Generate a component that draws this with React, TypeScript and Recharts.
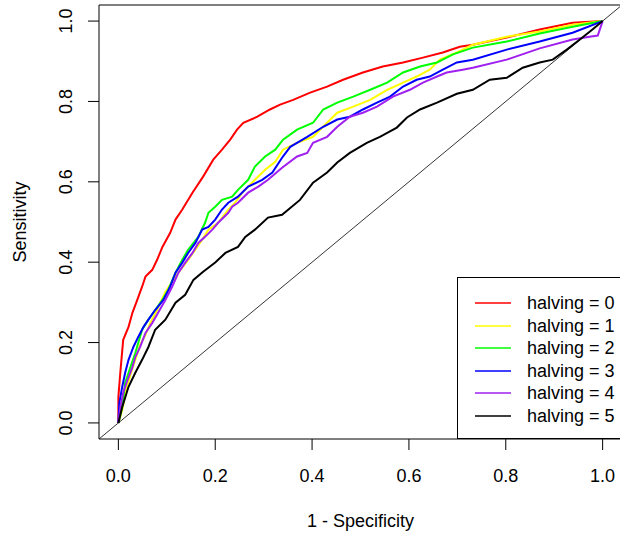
import React from 'react';
import { LineChart, Line, XAxis, YAxis, ReferenceArea } from 'recharts';

const seriesNames = ['halving = 0', 'halving = 1', 'halving = 2', 'halving = 3', 'halving = 4', 'halving = 5'];
const seriesColors = ['#FF0000', '#FFFF00', '#00FF00', '#0000FF', '#A020F0', '#000000'];
const axisTicks = [0, 0.2, 0.4, 0.6, 0.8, 1.0];

const h0Fpr = [0, 0, 0.004, 0.010, 0.021, 0.029, 0.039, 0.049, 0.056, 0.070, 0.080, 0.091, 0.107, 0.118, 0.132, 0.153, 0.175, 0.196, 0.214, 0.231, 0.245, 0.258, 0.287, 0.313, 0.334, 0.361, 0.396, 0.431, 0.464, 0.505, 0.546, 0.588, 0.629, 0.670, 0.705, 0.732, 0.802, 0.870, 0.938, 1];
const h0Tpr = [0, 0.065, 0.125, 0.207, 0.239, 0.274, 0.306, 0.339, 0.364, 0.381, 0.406, 0.438, 0.473, 0.506, 0.531, 0.573, 0.613, 0.655, 0.680, 0.705, 0.730, 0.747, 0.762, 0.780, 0.792, 0.804, 0.822, 0.837, 0.854, 0.872, 0.887, 0.897, 0.909, 0.922, 0.936, 0.941, 0.959, 0.979, 0.996, 1];

const h1Fpr = [0, 0.008, 0.016, 0.025, 0.035, 0.045, 0.056, 0.066, 0.080, 0.097, 0.124, 0.144, 0.159, 0.173, 0.186, 0.206, 0.227, 0.241, 0.256, 0.268, 0.282, 0.303, 0.324, 0.340, 0.369, 0.402, 0.431, 0.452, 0.485, 0.520, 0.555, 0.588, 0.616, 0.643, 0.664, 0.699, 0.732, 0.802, 0.870, 0.938, 1];
const h1Tpr = [0, 0.032, 0.082, 0.120, 0.157, 0.194, 0.219, 0.249, 0.281, 0.326, 0.374, 0.406, 0.431, 0.456, 0.481, 0.498, 0.531, 0.548, 0.573, 0.588, 0.605, 0.630, 0.650, 0.680, 0.697, 0.712, 0.747, 0.772, 0.787, 0.804, 0.829, 0.847, 0.862, 0.879, 0.904, 0.922, 0.941, 0.961, 0.974, 0.991, 1];

const h2Fpr = [0, 0.008, 0.014, 0.025, 0.035, 0.049, 0.062, 0.076, 0.091, 0.103, 0.118, 0.132, 0.144, 0.165, 0.179, 0.186, 0.200, 0.214, 0.235, 0.247, 0.268, 0.282, 0.303, 0.324, 0.340, 0.369, 0.402, 0.423, 0.452, 0.485, 0.520, 0.555, 0.588, 0.623, 0.658, 0.691, 0.732, 0.802, 0.870, 0.938, 1];
const h2Tpr = [0, 0.040, 0.100, 0.139, 0.174, 0.232, 0.257, 0.281, 0.306, 0.331, 0.374, 0.406, 0.431, 0.463, 0.498, 0.523, 0.538, 0.555, 0.563, 0.580, 0.605, 0.638, 0.663, 0.680, 0.705, 0.730, 0.747, 0.780, 0.797, 0.812, 0.829, 0.847, 0.872, 0.887, 0.897, 0.917, 0.934, 0.949, 0.969, 0.986, 1];

const h3Fpr = [0, 0.002, 0.008, 0.014, 0.021, 0.031, 0.041, 0.052, 0.062, 0.076, 0.093, 0.107, 0.118, 0.132, 0.144, 0.159, 0.173, 0.186, 0.200, 0.214, 0.227, 0.247, 0.268, 0.297, 0.318, 0.338, 0.355, 0.390, 0.423, 0.452, 0.478, 0.505, 0.534, 0.561, 0.588, 0.616, 0.643, 0.670, 0.699, 0.732, 0.802, 0.870, 0.938, 1];
const h3Tpr = [0, 0.050, 0.090, 0.125, 0.157, 0.189, 0.214, 0.239, 0.257, 0.281, 0.306, 0.339, 0.374, 0.399, 0.423, 0.448, 0.481, 0.488, 0.506, 0.531, 0.548, 0.563, 0.588, 0.605, 0.623, 0.660, 0.687, 0.712, 0.737, 0.755, 0.762, 0.780, 0.797, 0.812, 0.837, 0.854, 0.862, 0.879, 0.897, 0.904, 0.929, 0.949, 0.971, 1];

const h4Fpr = [0, 0.004, 0.010, 0.019, 0.029, 0.035, 0.045, 0.056, 0.070, 0.082, 0.097, 0.111, 0.124, 0.138, 0.153, 0.165, 0.179, 0.194, 0.206, 0.227, 0.235, 0.247, 0.268, 0.289, 0.309, 0.338, 0.369, 0.390, 0.402, 0.431, 0.452, 0.478, 0.505, 0.534, 0.567, 0.602, 0.629, 0.658, 0.678, 0.711, 0.732, 0.802, 0.870, 0.938, 0.973, 0.990, 1];
const h4Tpr = [0, 0.040, 0.075, 0.107, 0.139, 0.164, 0.189, 0.224, 0.249, 0.274, 0.306, 0.339, 0.374, 0.399, 0.423, 0.448, 0.463, 0.481, 0.498, 0.523, 0.538, 0.548, 0.573, 0.588, 0.605, 0.635, 0.663, 0.672, 0.697, 0.712, 0.737, 0.762, 0.772, 0.787, 0.812, 0.829, 0.847, 0.862, 0.872, 0.879, 0.884, 0.904, 0.932, 0.954, 0.961, 0.964, 1];

const h5Fpr = [0, 0.008, 0.021, 0.035, 0.049, 0.062, 0.076, 0.097, 0.118, 0.138, 0.155, 0.175, 0.200, 0.221, 0.247, 0.262, 0.282, 0.309, 0.338, 0.375, 0.402, 0.431, 0.452, 0.478, 0.513, 0.540, 0.575, 0.596, 0.623, 0.658, 0.699, 0.732, 0.767, 0.802, 0.835, 0.870, 0.897, 0.926, 0.953, 0.979, 1];
const h5Tpr = [0, 0.040, 0.090, 0.125, 0.157, 0.189, 0.232, 0.257, 0.299, 0.319, 0.356, 0.376, 0.399, 0.423, 0.438, 0.463, 0.481, 0.511, 0.518, 0.555, 0.598, 0.623, 0.648, 0.672, 0.697, 0.712, 0.735, 0.760, 0.780, 0.797, 0.819, 0.829, 0.854, 0.859, 0.884, 0.897, 0.904, 0.929, 0.954, 0.979, 1];

const diagFpr = [-0.04, 1.04];
const diagTpr = [-0.04, 1.04];

const toPoints = (xs: number[], ys: number[]) => xs.map((x, i) => ({ x, y: ys[i] }));

const curves = [
  toPoints(h0Fpr, h0Tpr),
  toPoints(h1Fpr, h1Tpr),
  toPoints(h2Fpr, h2Tpr),
  toPoints(h3Fpr, h3Tpr),
  toPoints(h4Fpr, h4Tpr),
  toPoints(h5Fpr, h5Tpr),
];
const diagonal = toPoints(diagFpr, diagTpr);

const FONT = '"Liberation Sans", Arial, sans-serif';

const XTick = (props: any) => {
  const { x, y, payload } = props;
  return (
    <text x={x} y={y + 32} textAnchor="middle" fontSize={18} fontFamily={FONT} fill="#000">
      {Number(payload.value).toFixed(1)}
    </text>
  );
};

const YTick = (props: any) => {
  const { x, y, payload } = props;
  const bx = x - 16;
  return (
    <text x={bx} y={y} transform={`rotate(-90, ${bx}, ${y})`} textAnchor="middle" fontSize={18} fontFamily={FONT} fill="#000">
      {Number(payload.value).toFixed(1)}
    </text>
  );
};

const XTitle = (props: any) => {
  const vb = props.viewBox || {};
  return (
    <text x={vb.x + vb.width / 2} y={vb.y + 88} textAnchor="middle" fontSize={18} fontFamily={FONT} fill="#000">
      1 - Specificity
    </text>
  );
};

const YTitle = (props: any) => {
  const vb = props.viewBox || {};
  const cx = 26;
  const cy = vb.y + vb.height / 2;
  return (
    <text x={cx} y={cy} transform={`rotate(-90, ${cx}, ${cy})`} textAnchor="middle" fontSize={18} fontFamily={FONT} fill="#000">
      Sensitivity
    </text>
  );
};

const LegendBox = () => (
  <div
    style={{
      position: 'absolute',
      left: 457,
      top: 277,
      width: 170,
      height: 162,
      border: '1px solid #000',
      boxSizing: 'border-box',
      background: '#fff',
      fontFamily: FONT,
      fontSize: 18,
      color: '#000',
    }}
  >
    {seriesNames.map((name, i) => (
      <div
        key={name}
        style={{ position: 'absolute', left: 0, top: 25 + i * 22.6 - 11, height: 22, width: 170, lineHeight: '22px' }}
      >
        <svg width={60} height={22} style={{ position: 'absolute', left: 0, top: 0 }}>
          <line x1={17} x2={53} y1={11} y2={11} stroke={seriesColors[i]} strokeWidth={1.3} />
        </svg>
        <span style={{ position: 'absolute', left: 69, top: 0, whiteSpace: 'nowrap' }}>{name}</span>
      </div>
    ))}
  </div>
);

export default function App() {
  return (
    <div style={{ position: 'fixed', left: 0, top: 0, width: 620, height: 534, overflow: 'hidden', background: '#fff' }}>
      <LineChart width={624} height={534} margin={{ top: 5, right: 2, bottom: 0, left: 0 }}>
        <XAxis
          dataKey="x"
          type="number"
          domain={[-0.04, 1.04]}
          allowDataOverflow
          ticks={axisTicks}
          tick={<XTick />}
          tickSize={11}
          tickMargin={0}
          tickLine={{ stroke: '#000', strokeWidth: 1 }}
          axisLine={false}
          height={95}
          interval={0}
          label={<XTitle />}
        />
        <YAxis
          dataKey="y"
          type="number"
          domain={[-0.04, 1.04]}
          allowDataOverflow
          ticks={axisTicks}
          tick={<YTick />}
          tickSize={11}
          tickMargin={0}
          tickLine={{ stroke: '#000', strokeWidth: 1 }}
          axisLine={false}
          width={99}
          interval={0}
          label={<YTitle />}
        />
        <ReferenceArea x1={-0.04} x2={1.04} y1={-0.04} y2={1.04} fill="none" fillOpacity={0} stroke="#000" strokeWidth={1} ifOverflow="visible" />
        <Line data={diagonal} dataKey="y" type="linear" dot={false} stroke="#000" strokeWidth={0.8} isAnimationActive={false} />
        {curves.map((d, i) => (
          <Line
            key={seriesNames[i]}
            data={d}
            dataKey="y"
            name={seriesNames[i]}
            type="linear"
            dot={false}
            stroke={seriesColors[i]}
            strokeWidth={2}
            isAnimationActive={false}
          />
        ))}
      </LineChart>
      <LegendBox />
    </div>
  );
}
